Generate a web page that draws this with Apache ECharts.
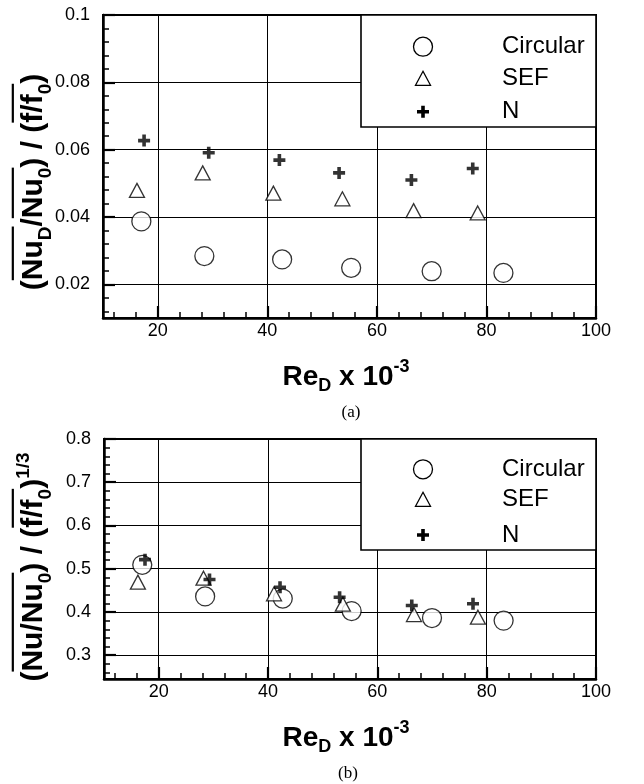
<!DOCTYPE html>
<html>
<head>
<meta charset="utf-8">
<script src="https://cdn.jsdelivr.net/npm/echarts@6/dist/echarts.min.js"></script>
<style>
  html, body { margin: 0; padding: 0; background: #fff; }
  #chart { width: 644px; height: 784px; }
</style>
</head>
<body>
<div id="chart"></div>
<script>
// Reynolds number (x 10^-3) for each tube shape
const reCircular = [17.0, 28.5, 42.7, 55.3, 70.0, 83.1];
const reSEF      = [16.2, 28.2, 41.1, 53.7, 66.7, 78.4];
const reN        = [17.5, 29.3, 42.2, 53.1, 66.3, 77.5];

// (a) Nu_D/Nu_0 divided by f/f_0
const ratioCircular = [0.0387, 0.0284, 0.0274, 0.0249, 0.0239, 0.0234];
const ratioSEF      = [0.0479, 0.0531, 0.0471, 0.0454, 0.0419, 0.0412];
const ratioN        = [0.0627, 0.0591, 0.0569, 0.0531, 0.0510, 0.0544];

// (b) Nu/Nu_0 divided by (f/f_0)^(1/3)
const effCircular = [0.509, 0.436, 0.431, 0.402, 0.386, 0.380];
const effSEF      = [0.469, 0.478, 0.442, 0.418, 0.394, 0.388];
const effN        = [0.521, 0.475, 0.457, 0.434, 0.415, 0.419];

const seriesNames = ['Circular', 'SEF', 'N'];

// Labelled tick positions
const xTicks  = [20, 40, 60, 80, 100];
const yTicksA = [0.02, 0.04, 0.06, 0.08, 0.1];
const yTicksB = [0.3, 0.4, 0.5, 0.6, 0.7, 0.8];

// Minor tick positions between the labelled ones
function minorTicks(step, from, to, every) {
  const out = [];
  for (let i = from; i <= to; i++) if (i % every) out.push(+(i * step).toFixed(4));
  return out;
}
const xMinor  = minorTicks(4, 3, 24, 5);
const yMinorA = minorTicks(0.004, 3, 24, 5);
const yMinorB = minorTicks(0.02, 13, 39, 5);

const SANS = '"Liberation Sans", Arial, Helvetica, sans-serif';
const SERIF = '"Liberation Serif", "Times New Roman", serif';
const PLUS = 'path://M4.2,0H7.8V4.2H12V7.8H7.8V12H4.2V7.8H0V4.2H4.2Z';

const grids = [
  { left: 103, top: 15,  width: 493, height: 303, xMin: 10, xMax: 100, yMin: 0.01,  yMax: 0.1, yTicks: yTicksA, yMinor: yMinorA },
  { left: 104, top: 439, width: 492, height: 240, xMin: 10, xMax: 100, yMin: 0.245, yMax: 0.8, yTicks: yTicksB, yMinor: yMinorB }
];

const fmt = v => String(parseFloat((+v).toFixed(4)));

const xAxes = [], yAxes = [];
grids.forEach((g, gi) => {
  xAxes.push({
    gridIndex: gi, type: 'value', min: g.xMin, max: g.xMax, position: 'bottom',
    axisLine: { show: true, onZero: false, lineStyle: { color: '#000', width: 2.5 } },
    axisTick: { show: true, inside: true, length: 12, customValues: xTicks, lineStyle: { color: '#000', width: 2.2 } },
    axisLabel: { show: true, customValues: xTicks, formatter: fmt, color: '#000', fontFamily: SANS, fontSize: 18, margin: 4 },
    splitLine: { show: true, lineStyle: { color: '#000', width: 1 } }
  });
  xAxes.push({
    gridIndex: gi, type: 'value', min: g.xMin, max: g.xMax, position: 'bottom',
    axisLine: { show: false },
    axisTick: { show: true, inside: true, length: 6, customValues: xMinor, lineStyle: { color: '#000', width: 1.5 } },
    axisLabel: { show: false },
    splitLine: { show: false }
  });
  yAxes.push({
    gridIndex: gi, type: 'value', min: g.yMin, max: g.yMax, position: 'left',
    axisLine: { show: true, onZero: false, lineStyle: { color: '#000', width: 2.5 } },
    axisTick: { show: true, inside: true, length: 12, customValues: g.yTicks, lineStyle: { color: '#000', width: 2.2 } },
    axisLabel: { show: true, customValues: g.yTicks, formatter: fmt, color: '#000', fontFamily: SANS, fontSize: 18, margin: 13 },
    splitLine: { show: true, lineStyle: { color: '#000', width: 1 } }
  });
  yAxes.push({
    gridIndex: gi, type: 'value', min: g.yMin, max: g.yMax, position: 'left',
    axisLine: { show: false },
    axisTick: { show: true, inside: true, length: 6, customValues: g.yMinor, lineStyle: { color: '#000', width: 1.5 } },
    axisLabel: { show: false },
    splitLine: { show: false }
  });
});

const pairs = (xs, ys) => xs.map((x, i) => [x, ys[i]]);
const markerStyles = [
  { symbol: 'circle',   symbolSize: 19,       itemStyle: { color: '#fff', borderColor: '#000', borderWidth: 1.3 } },
  { symbol: 'triangle', symbolSize: [15, 14], itemStyle: { color: '#fff', borderColor: '#000', borderWidth: 1.3 } },
  { symbol: PLUS,       symbolSize: 12,       itemStyle: { color: '#000', borderWidth: 0 } }
];
const panelData = [
  [pairs(reCircular, ratioCircular), pairs(reSEF, ratioSEF), pairs(reN, ratioN)],
  [pairs(reCircular, effCircular),   pairs(reSEF, effSEF),   pairs(reN, effN)]
];
const series = [];
panelData.forEach((sets, gi) => {
  sets.forEach((data, si) => {
    series.push(Object.assign({
      type: 'scatter', name: seriesNames[si],
      xAxisIndex: gi * 2, yAxisIndex: gi * 2,
      data, z: 3 + si, silent: true
    }, markerStyles[si]));
  });
});

// Text measurement for formula layout
const measureCtx = document.createElement('canvas').getContext('2d');
function textWidth(s, font) { measureCtx.font = font; return measureCtx.measureText(s).width; }

// Formula built from pieces: k = 'sub' | 'sup' | undefined, o = overlined
function formula(pieces, o) {
  const F = o.size, S = o.subSize;
  const children = [];
  const spans = [];
  let x = 0;
  pieces.forEach(p => {
    const size = p.k ? S : F;
    const font = `${o.weight} ${size}px ${SANS}`;
    const w = textWidth(p.t, font);
    let y = 0;
    if (p.k === 'sub') y = 0.31 * F + o.subDrop - 0.31 * S;
    if (p.k === 'sup') y = 0.31 * F - o.supRise - 0.31 * S;
    children.push({
      type: 'text', x, y,
      style: { text: p.t, font, fill: '#000', align: 'left', verticalAlign: 'middle', textAlign: 'left', textVerticalAlign: 'middle' }
    });
    if (p.o) {
      const last = spans[spans.length - 1];
      if (last && Math.abs(last[1] - x) < 0.5) last[1] = x + w; else spans.push([x, x + w]);
    }
    x += w + (p.gap || 0);
  });
  const oy = -0.406 * F - o.overGap;
  spans.forEach(s => children.push({
    type: 'line', shape: { x1: s[0], y1: oy, x2: s[1], y2: oy },
    style: { stroke: '#000', lineWidth: 2.2 }
  }));
  const L = x;
  if (o.vertical) {
    return { type: 'group', x: o.cx, y: o.cy + L / 2, rotation: Math.PI / 2, children, z: 20 };
  }
  return { type: 'group', x: o.cx - L / 2, y: o.cy, children, z: 20 };
}

const yTitleStyle = { size: 30, subSize: 19, weight: 'bold', subDrop: 8, supRise: 14, overGap: 9, vertical: true };
const xTitleStyle = { size: 28, subSize: 18, weight: 'bold', subDrop: 6, supRise: 13, overGap: 6, vertical: false };

const yTitleA = formula([
  { t: '(' }, { t: 'Nu', o: 1 }, { t: 'D', k: 'sub', o: 1 }, { t: '/' },
  { t: 'Nu', o: 1 }, { t: '0', k: 'sub', o: 1 }, { t: ') / (' },
  { t: 'f/f', o: 1 }, { t: '0', k: 'sub', o: 1 }, { t: ')' }
], Object.assign({ cx: 34, cy: 182 }, yTitleStyle));

const yTitleB = formula([
  { t: '(' }, { t: 'Nu/Nu', o: 1 }, { t: '0', k: 'sub', o: 1 }, { t: ') / (' },
  { t: 'f/f', o: 1 }, { t: '0', k: 'sub', o: 1 }, { t: ')' }, { t: '1/3', k: 'sup' }
], Object.assign({ cx: 34, cy: 567 }, yTitleStyle));

const xTitlePieces = [{ t: 'Re' }, { t: 'D', k: 'sub' }, { t: ' x 10' }, { t: '-3', k: 'sup' }];
const xTitleA = formula(xTitlePieces, Object.assign({ cx: 346, cy: 377 }, xTitleStyle));
const xTitleB = formula(xTitlePieces, Object.assign({ cx: 346, cy: 738 }, xTitleStyle));

// Boxed legend in the upper right corner of each panel
function legendBox(x, y, w, h, rowOffsets) {
  const els = [{
    type: 'rect', shape: { x, y, width: w, height: h },
    style: { fill: '#fff', stroke: '#000', lineWidth: 1.6 }, z: 10
  }];
  const sx = x + 62, tx = x + 141;
  rowOffsets.forEach((dy, i) => {
    const cy = y + dy;
    if (i === 0) {
      els.push({ type: 'circle', shape: { cx: sx, cy, r: 9.5 }, style: { fill: '#fff', stroke: '#000', lineWidth: 1.3 }, z: 11 });
    } else if (i === 1) {
      els.push({ type: 'polygon', shape: { points: [[sx, cy - 7], [sx + 7.5, cy + 7], [sx - 7.5, cy + 7]] }, style: { fill: '#fff', stroke: '#000', lineWidth: 1.3 }, z: 11 });
    } else {
      const a = 6, b = 1.8;
      els.push({ type: 'polygon', shape: { points: [
        [sx - b, cy - a], [sx + b, cy - a], [sx + b, cy - b], [sx + a, cy - b], [sx + a, cy + b], [sx + b, cy + b],
        [sx + b, cy + a], [sx - b, cy + a], [sx - b, cy + b], [sx - a, cy + b], [sx - a, cy - b], [sx - b, cy - b]
      ] }, style: { fill: '#000' }, z: 11 });
    }
    els.push({
      type: 'text', x: tx, y: cy,
      style: { text: seriesNames[i], font: `24px ${SANS}`, fill: '#000', align: 'left', verticalAlign: 'middle', textAlign: 'left', textVerticalAlign: 'middle' },
      z: 11
    });
  });
  return els;
}

const captions = [
  { type: 'text', x: 351, y: 413, style: { text: '(a)', font: `17px ${SERIF}`, fill: '#000', align: 'center', verticalAlign: 'middle', textAlign: 'center', textVerticalAlign: 'middle' } },
  { type: 'text', x: 348, y: 774, style: { text: '(b)', font: `17px ${SERIF}`, fill: '#000', align: 'center', verticalAlign: 'middle', textAlign: 'center', textVerticalAlign: 'middle' } }
];

const option = {
  animation: false,
  backgroundColor: '#fff',
  grid: grids.map(g => ({
    left: g.left, top: g.top, width: g.width, height: g.height,
    show: true, borderColor: '#000', borderWidth: 2, backgroundColor: 'transparent',
    containLabel: false, outerBoundsMode: 'none'
  })),
  xAxis: xAxes,
  yAxis: yAxes,
  series,
  graphic: [].concat(
    legendBox(361, 15, 235, 112, [31.7, 63.3, 96.7]),
    legendBox(361, 439, 235, 111, [30.3, 60.3, 96]),
    [yTitleA, yTitleB, xTitleA, xTitleB],
    captions
  )
};

const chart = echarts.init(document.getElementById('chart'), null, { renderer: 'canvas' });
chart.setOption(option);
</script>
</body>
</html>
